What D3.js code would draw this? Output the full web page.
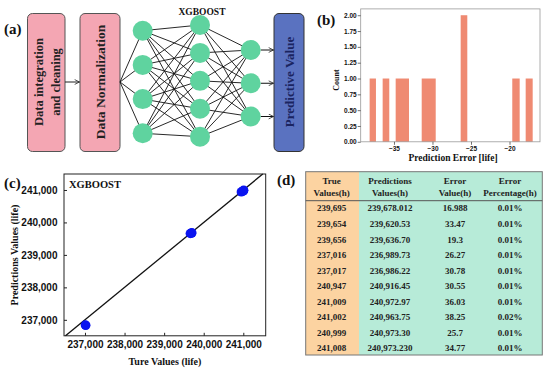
<!DOCTYPE html>
<html>
<head>
<meta charset="utf-8">
<script src="https://cdn.jsdelivr.net/npm/d3@7"></script>
<style>
  body { margin: 0; background: #fff; }
  svg { display: block; font-family: "Liberation Serif", "DejaVu Serif", serif; font-weight: bold; }
</style>
</head>
<body>
<svg id="fig" width="550" height="372"></svg>
<script>
// ---- data ----
var layerSizes = [4, 5, 3];

// histogram bins: [x0, x1]
var binStart = [-38.16, -36.47, -34.78, -31.40, -26.34, -19.64, -17.90];
var binEnd   = [-37.34, -35.61, -33.05, -29.58, -25.48, -18.68, -16.99];
var binCount = [1, 1, 1, 1, 2, 1, 1];
var histXTicks = [-35, -30, -25, -20];
var histYTicks = [0, 0.25, 0.5, 0.75, 1, 1.25, 1.5, 1.75, 2];

// scatter points
var trueX = [237010, 237020, 239690, 239660, 239700, 240950, 241000, 241010, 241005];
var predY = [236840, 236830, 239670, 239660, 239680, 240940, 240970, 240990, 240980];
var scatterTicks = [237000, 238000, 239000, 240000, 241000];

// table of panel (d)
var colHeads = [["True", "Values(h)"], ["Predictions", "Values(h)"], ["Error", "Value(h)"], ["Error", "Percentage(h)"]];
var trueVals = ["239,695", "239,654", "239,656", "237,016", "237,017", "240,947", "241,009", "241,002", "240,999", "241,008"];
var predVals = ["239,678.012", "239,620.53", "239,636.70", "236,989.73", "236,986.22", "240,916.45", "240,972.97", "240,963.75", "240,973.30", "240,973.230"];
var errVals  = ["16.988", "33.47", "19.3", "26.27", "30.78", "30.55", "36.03", "38.25", "25.7", "34.77"];
var pctVals  = ["0.01%", "0.01%", "0.01%", "0.01%", "0.01%", "0.01%", "0.01%", "0.02%", "0.01%", "0.01%"];

var svg = d3.select("#fig");

svg.append("defs").append("marker")
    .attr("id", "arr")
    .attr("viewBox", "0 0 10 10")
    .attr("refX", 9).attr("refY", 5)
    .attr("markerWidth", 6).attr("markerHeight", 6)
    .attr("orient", "auto")
  .append("path")
    .attr("d", "M1,1 L9,5 L1,9")
    .attr("fill", "none")
    .attr("stroke", "#222")
    .attr("stroke-width", 1.3);

function panelLabel(txt, x, y) {
  svg.append("text").attr("x", x).attr("y", y)
    .attr("font-size", 15).attr("fill", "#111").text(txt);
}

// ---------- (a) workflow diagram ----------
panelLabel("(a)", 4, 34);

var midY = 82;
function box(x, w, fill, stroke) {
  svg.append("rect")
    .attr("x", x).attr("y", 13.5).attr("width", w).attr("height", 138)
    .attr("rx", 5)
    .attr("fill", fill).attr("stroke", stroke).attr("stroke-width", 1);
}
function vtext(txt, x, y, size, color) {
  svg.append("text")
    .attr("transform", "translate(" + x + "," + y + ") rotate(-90)")
    .attr("text-anchor", "middle").attr("dy", "0.35em")
    .attr("font-size", size).attr("fill", color).text(txt);
}

box(27.5, 37.5, "#f4a6b3", "#555");
vtext("Data integration", 39, midY, 12.5, "#222");
vtext("and cleaning", 56, midY, 12.5, "#222");
box(80, 40, "#f4a6b3", "#555");
vtext("Data Normalization", 100, midY, 13.5, "#222");
box(274, 30, "#5a72c0", "#333");
vtext("Predictive Value", 289, midY, 13, "#1b2460");

svg.append("line")
  .attr("x1", 65).attr("x2", 79.5).attr("y1", midY).attr("y2", midY)
  .attr("stroke", "#222").attr("stroke-width", 1).attr("marker-end", "url(#arr)");

var layerX = [142.7, 200, 250.7];
var layerY = [
  d3.scalePoint().domain(d3.range(layerSizes[0])).range([30.7, 133.3]),
  d3.scalePoint().domain(d3.range(layerSizes[1])).range([25, 136.7]),
  d3.scalePoint().domain(d3.range(layerSizes[2])).range([50, 116.5])
];

var net = svg.append("g");
d3.range(layerSizes[0]).forEach(function(i) {
  net.append("line")
    .attr("x1", 120).attr("y1", midY)
    .attr("x2", layerX[0]).attr("y2", layerY[0](i))
    .attr("stroke", "#111").attr("stroke-width", 0.9);
});
for (var l = 0; l < 2; l++) {
  d3.range(layerSizes[l]).forEach(function(i) {
    d3.range(layerSizes[l + 1]).forEach(function(j) {
      net.append("line")
        .attr("x1", layerX[l]).attr("y1", layerY[l](i))
        .attr("x2", layerX[l + 1]).attr("y2", layerY[l + 1](j))
        .attr("stroke", "#111").attr("stroke-width", 0.9);
    });
  });
}
d3.range(layerSizes[2]).forEach(function(i) {
  net.append("line")
    .attr("x1", layerX[2] + 10).attr("y1", layerY[2](i))
    .attr("x2", 273.5).attr("y2", layerY[2](i))
    .attr("stroke", "#111").attr("stroke-width", 1).attr("marker-end", "url(#arr)");
});
layerSizes.forEach(function(n, l) {
  net.selectAll(null).data(d3.range(n)).enter().append("circle")
    .attr("cx", layerX[l]).attr("cy", function(d) { return layerY[l](d); })
    .attr("r", 10)
    .attr("fill", "#5fd39f");
});
svg.append("text").attr("x", 202).attr("y", 15)
  .attr("text-anchor", "middle").attr("font-size", 9.5).attr("fill", "#111").text("XGBOOST");

// ---------- (b) histogram ----------
panelLabel("(b)", 317, 25);

var bx = d3.scaleLinear().domain([-39.32, -16.04]).range([360.7, 540]);
var by = d3.scaleLinear().domain([0, 2.1]).range([141.8, 8.9]);
var gb = svg.append("g");

gb.selectAll(".bar")
  .data(binCount)
  .enter().append("rect")
    .attr("class", "bar")
    .attr("x", function(d, i) { return bx(binStart[i]); })
    .attr("width", function(d, i) { return bx(binEnd[i]) - bx(binStart[i]); })
    .attr("y", function(d) { return by(d); })
    .attr("height", function(d) { return by(0) - by(d); })
    .attr("fill", "#ef8a72");

gb.append("rect")
  .attr("x", 360.7).attr("y", 8.9).attr("width", 540 - 360.7).attr("height", 141.8 - 8.9)
  .attr("fill", "none").attr("stroke", "#999").attr("stroke-width", 0.8);

var bxa = gb.append("g").attr("transform", "translate(0,141.8)")
  .call(d3.axisBottom(bx).tickValues(histXTicks).tickSize(3).tickSizeOuter(0));
var bya = gb.append("g").attr("transform", "translate(360.7,0)")
  .call(d3.axisLeft(by).tickValues(histYTicks).tickFormat(d3.format(".2f")).tickSize(3).tickSizeOuter(0));
[bxa, bya].forEach(function(a) {
  a.select(".domain").remove();
  a.selectAll("line").attr("stroke", "#333").attr("stroke-width", 0.7);
  a.selectAll("text").attr("font-family", null).attr("font-size", 6.5).attr("fill", "#111");
});
bxa.selectAll("text").attr("y", 4.5).attr("dy", "0.71em");
bya.selectAll("text").attr("x", -4);
gb.append("text").attr("x", 453).attr("y", 161)
  .attr("text-anchor", "middle").attr("font-size", 9.5).attr("fill", "#111").text("Prediction Error [life]");
gb.append("text").attr("transform", "translate(336.5,80) rotate(-90)")
  .attr("text-anchor", "middle").attr("dy", "0.35em")
  .attr("font-size", 8).attr("fill", "#111").text("Count");

// ---------- (c) scatter ----------
panelLabel("(c)", 4, 188);

var cx = d3.scaleLinear().domain([236470, 241566]).range([64, 265.7]);
var cy = d3.scaleLinear().domain([236508, 241492]).range([335.8, 174]);
var gc = svg.append("g");

gc.append("rect")
  .attr("x", 64).attr("y", 174).attr("width", 265.7 - 64).attr("height", 335.8 - 174)
  .attr("fill", "none").attr("stroke", "#222").attr("stroke-width", 1);

var cxa = gc.append("g").attr("transform", "translate(0,335.8)")
  .call(d3.axisBottom(cx).tickValues(scatterTicks).tickSize(-3).tickSizeOuter(0));
var cya = gc.append("g").attr("transform", "translate(64,0)")
  .call(d3.axisLeft(cy).tickValues(scatterTicks).tickSize(-3).tickSizeOuter(0));
[cxa, cya].forEach(function(a) {
  a.select(".domain").remove();
  a.selectAll("line").attr("stroke", "#222");
  a.selectAll("text").attr("font-family", null).attr("font-size", 10).attr("fill", "#111");
});
cxa.selectAll("text").attr("y", 5).attr("dy", "0.71em");
cya.selectAll("text").attr("x", -6.5);

// y = x reference line across the plot
var lo = Math.max(cx.domain()[0], cy.domain()[0]);
var hi = Math.min(cx.domain()[1], cy.domain()[1]);
gc.append("line")
  .attr("x1", cx(lo)).attr("y1", cy(lo))
  .attr("x2", cx(hi)).attr("y2", cy(hi))
  .attr("stroke", "#111").attr("stroke-width", 1.3);

gc.selectAll(".pt").data(trueX).enter().append("circle")
  .attr("class", "pt")
  .attr("cx", function(d) { return cx(d); })
  .attr("cy", function(d, i) { return cy(predY[i]); })
  .attr("r", 4.7)
  .attr("fill", "#0a14f0");

gc.append("text").attr("x", 69).attr("y", 187.5)
  .attr("font-size", 10.5).attr("fill", "#111").text("XGBOOST");
gc.append("text").attr("x", 165).attr("y", 365)
  .attr("text-anchor", "middle").attr("font-size", 10).attr("fill", "#111").text("Ture Values (life)");
gc.append("text").attr("transform", "translate(14.5,255) rotate(-90)")
  .attr("text-anchor", "middle").attr("dy", "0.35em")
  .attr("font-size", 10).attr("fill", "#111").text("Predictions Values (life)");

// ---------- (d) table ----------
panelLabel("(d)", 277, 185);

var tLeft = 305.7, tRight = 542.3, tTop = 171.7, tBottom = 355;
var colEdge = [tLeft, 359, tRight];
var colMid = [331.7, 390, 455, 510];
var gd = svg.append("g");

gd.append("rect").attr("x", colEdge[0]).attr("y", tTop)
  .attr("width", colEdge[1] - colEdge[0]).attr("height", tBottom - tTop).attr("fill", "#fcd3a1");
gd.append("rect").attr("x", colEdge[1]).attr("y", tTop)
  .attr("width", colEdge[2] - colEdge[1]).attr("height", tBottom - tTop).attr("fill", "#b7ebd8");
gd.append("rect").attr("x", tLeft).attr("y", tTop)
  .attr("width", tRight - tLeft).attr("height", tBottom - tTop)
  .attr("fill", "none").attr("stroke", "#777").attr("stroke-width", 1);
gd.append("line").attr("x1", tLeft).attr("x2", tRight).attr("y1", 200.7).attr("y2", 200.7)
  .attr("stroke", "#555").attr("stroke-width", 1);

colHeads.forEach(function(h, c) {
  h.forEach(function(t, k) {
    gd.append("text").attr("x", colMid[c]).attr("y", 180.5 + k * 12.5)
      .attr("text-anchor", "middle").attr("dy", "0.35em")
      .attr("font-size", 9).attr("fill", "#222").text(t);
  });
});

var rowY = d3.scalePoint().domain(d3.range(trueVals.length)).range([208.3, 348.3]);
var cols = [trueVals, predVals, errVals, pctVals];
cols.forEach(function(vals, c) {
  gd.selectAll(null).data(vals).enter().append("text")
    .attr("x", colMid[c])
    .attr("y", function(d, i) { return rowY(i); })
    .attr("text-anchor", "middle").attr("dy", "0.35em")
    .attr("font-size", 9).attr("fill", "#222")
    .text(function(d) { return d; });
});
</script>
</body>
</html>
